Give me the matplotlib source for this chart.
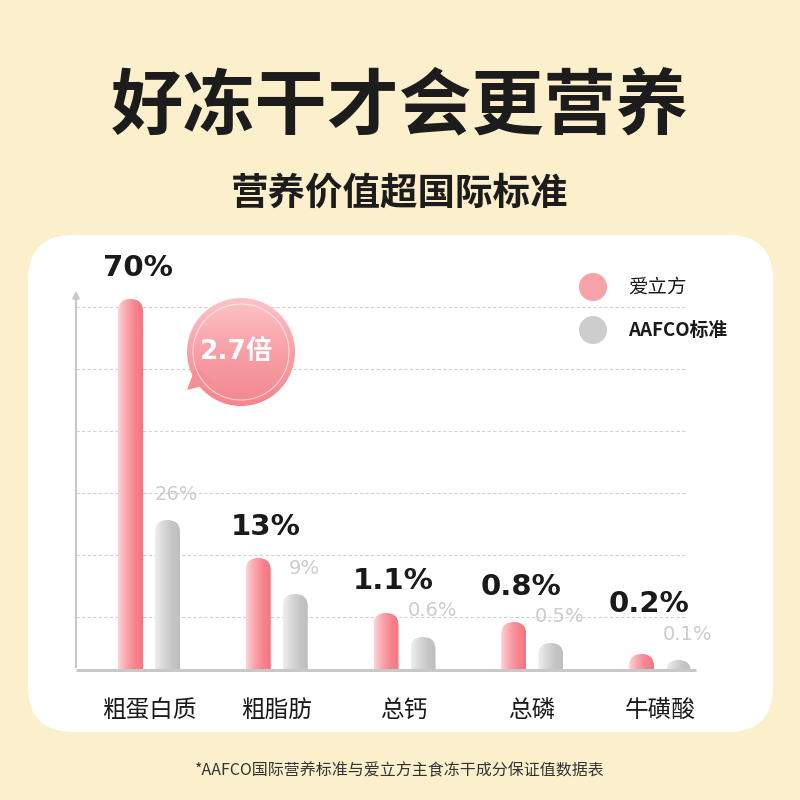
import numpy as np
import matplotlib.pyplot as plt
from matplotlib.patches import FancyBboxPatch, Circle, Polygon
from matplotlib.colors import LinearSegmentedColormap

plt.rcParams['font.family'] = ['Noto Sans CJK SC', 'DejaVu Sans']

# data
categories = ['粗蛋白质', '粗脂肪', '总钙', '总磷', '牛磺酸']
aili_labels = ['70%', '13%', '1.1%', '0.8%', '0.2%']
aafco_labels = ['26%', '9%', '0.6%', '0.5%', '0.1%']
# bar heights as drawn in the picture (px above baseline, not to scale)
aili_heights = [371, 112, 57, 48, 16]
aafco_heights = [150, 76, 33, 27, 10]
legend_names = ['爱立方', 'AAFCO标准']
ratio_text = '2.7倍'

BG = '#fcefcc'
PINK = '#f7a1a8'
GREY = '#cdcdcd'

fig = plt.figure(figsize=(8, 8), dpi=100, facecolor=BG)

# background layer in pixel coords
bg = fig.add_axes([0, 0, 1, 1], zorder=0)
bg.set_xlim(0, 800)
bg.set_ylim(800, 0)
bg.axis('off')
bg.add_patch(FancyBboxPatch((28, 235), 745, 497, boxstyle='round,pad=0,rounding_size=45',
                            fc='white', ec='none'))
bg.text(400, 107, '好冻干才会更营养', ha='center', va='center', fontsize=52,
        fontweight='heavy', color='#1c1c1c')
bg.text(400, 193, '营养价值超国际标准', ha='center', va='center', fontsize=27,
        fontweight='bold', color='#1c1c1c')
bg.text(400, 771, '*AAFCO国际营养标准与爱立方主食冻干成分保证值数据表', ha='center',
        va='center', fontsize=11.5, color='#333333')

# chart axes: x in group index, y in px above baseline
px_per_x = 127.75
x0_px, x1_px, base_px, top_px = 76, 700, 670, 288
ax = fig.add_axes([x0_px / 800, (800 - base_px) / 800, (x1_px - x0_px) / 800,
                   (base_px - top_px) / 800], zorder=2)
ax.patch.set_alpha(0)
xmin = (x0_px - 149) / px_per_x
xmax = (x1_px - 149) / px_per_x
ylim = (0, base_px - top_px)

sx = 1 / px_per_x
bar_w = 25 * sx
off = 18.5 * sx
x = np.arange(len(categories))

pink_cmap = LinearSegmentedColormap.from_list('p', ['#fdd3d6', '#f9a6ac', '#f7868f', '#f7747f'])
grey_cmap = LinearSegmentedColormap.from_list('g', ['#eeeeee', '#d9d9d9', '#c7c7c7', '#bebebe'])


def rounded_bar(xc, h, cmap):
    ext = 20
    patch = FancyBboxPatch((xc - bar_w / 2, -ext), bar_w, h + ext,
                           boxstyle='round,pad=0,rounding_size=%f' % (bar_w / 2),
                           mutation_aspect=1 / sx, fc='none', ec='none')
    ax.add_patch(patch)
    cols = np.linspace(0, 1, 60)
    img = np.tile(cols, (40, 1))
    im = ax.imshow(img, cmap=cmap, extent=[xc - bar_w / 2, xc + bar_w / 2, -ext, h],
                   aspect='auto', origin='lower', zorder=3, interpolation='bilinear')
    im.set_clip_path(patch)


for i in range(len(categories)):
    rounded_bar(x[i] - off, aili_heights[i], pink_cmap)
    rounded_bar(x[i] + off, aafco_heights[i], grey_cmap)
    gy = aafco_heights[i] + 26
    py = max(aili_heights[i] + 31, gy + 30)
    ax.text(x[i] + off + 9 * sx, gy, aafco_labels[i], ha='center', va='center',
            fontsize=14, color='#cccccc', family=['DejaVu Sans'], zorder=4)
    ax.text(x[i] - off + 7 * sx, py, aili_labels[i], ha='center', va='center',
            fontsize=21, fontweight='bold', color='#1a1a1a', family=['DejaVu Sans'], zorder=4)

# dashed grid lines and axes lines
grid_y = [53, 115, 177, 239, 301, 363]
ax.hlines(grid_y, xmin, (685 - 149) / px_per_x, colors='#d2d2d2', linestyles=(0, (3, 2)),
          linewidth=0.8, zorder=1)
ax.plot([xmin, (696 - 149) / px_per_x], [0, 0], color='#c8c8c8', lw=2.2, zorder=5,
        solid_capstyle='butt', clip_on=False)
ax.annotate('', xy=(xmin, ylim[1]), xytext=(xmin, 0),
            arrowprops=dict(arrowstyle='-|>', color='#c8c8c8', lw=1.5, mutation_scale=10),
            annotation_clip=False)

ax.set_xlim(xmin, xmax)
ax.set_ylim(*ylim)
ax.set_xticks(x)
ax.set_xticklabels(categories, fontsize=17, color='#1a1a1a', fontweight='medium')
ax.tick_params(length=0, pad=21)
ax.set_yticks([])
for s in ax.spines.values():
    s.set_visible(False)

# foreground: bubble and legend in pixel coords
fg = fig.add_axes([0, 0, 1, 1], zorder=3)
fg.patch.set_alpha(0)
fg.set_xlim(0, 800)
fg.set_ylim(800, 0)
fg.axis('off')

tail = Polygon([(196, 366), (187, 390), (214, 383)], closed=True, fc='#f68e96', ec='none')
fg.add_patch(tail)
circ = Circle((241, 352), 54, fc='none', ec='none')
fg.add_patch(circ)
bub_cmap = LinearSegmentedColormap.from_list('b', ['#fcc3c6', '#f8a0a6', '#f4868f'])
bim = fg.imshow(np.tile(np.linspace(0, 1, 50)[:, None], (1, 10)), cmap=bub_cmap,
                extent=[187, 295, 406, 298], aspect='auto', origin='upper',
                interpolation='bilinear')
bim.set_clip_path(circ)
fg.add_patch(Circle((241, 352), 48, fc='none', ec='white', lw=0.8, alpha=0.6))
fg.text(236, 352, ratio_text, ha='center', va='center', fontsize=19, fontweight='bold',
        color='white', family=['DejaVu Sans', 'Noto Sans CJK SC'])
fg.set_xlim(0, 800)
fg.set_ylim(800, 0)

fg.add_patch(Circle((593, 287), 14, fc=PINK, ec='none'))
fg.add_patch(Circle((593, 330), 14, fc=GREY, ec='none'))
fg.text(628, 287, legend_names[0], ha='left', va='center', fontsize=14, color='#1a1a1a')
fg.text(628, 330, legend_names[1], ha='left', va='center', fontsize=13.5, fontweight='bold',
        color='#1a1a1a')

fig.savefig('out.png', dpi=100, facecolor=BG)
